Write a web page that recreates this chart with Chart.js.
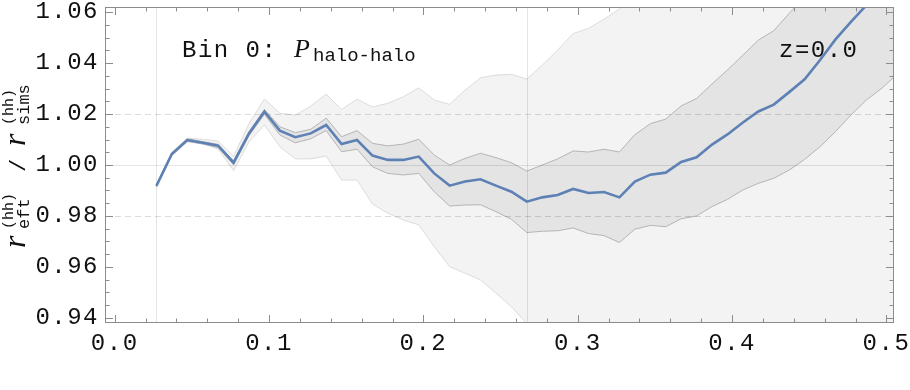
<!DOCTYPE html>
<html>
<head>
<meta charset="utf-8">
<script src="https://cdn.jsdelivr.net/npm/chart.js@4/dist/chart.umd.min.js"></script>
<style>
  html, body { margin: 0; padding: 0; background: #fff; }
</style>
</head>
<body>
<canvas id="ratio" width="910" height="390"></canvas>
<script>
// wavenumbers k [h/Mpc]
const K = [0.027, 0.037, 0.047, 0.057, 0.067, 0.077, 0.087, 0.097, 0.107, 0.117,
  0.127, 0.137, 0.147, 0.157, 0.167, 0.177, 0.187, 0.197, 0.207, 0.217,
  0.227, 0.237, 0.247, 0.257, 0.267, 0.277, 0.287, 0.297, 0.307, 0.317,
  0.327, 0.337, 0.347, 0.357, 0.367, 0.377, 0.387, 0.397, 0.407, 0.417,
  0.427, 0.437, 0.447, 0.457, 0.467, 0.477, 0.487, 0.497, 0.507];

// r_eft / r_sims, mean
const RATIO = [0.9918, 1.0043, 1.0098, 1.0087, 1.0076, 1.0009, 1.0124, 1.0209, 1.0135, 1.0109,
  1.0124, 1.0157, 1.0082, 1.0098, 1.0037, 1.0020, 1.0020, 1.0033, 0.9967, 0.9919,
  0.9935, 0.9944, 0.9919, 0.9895, 0.9856, 0.9873, 0.9882, 0.9906, 0.9890, 0.9894,
  0.9873, 0.9935, 0.9962, 0.9970, 1.0012, 1.0030, 1.0080, 1.0120, 1.0167, 1.0210,
  1.0237, 1.0286, 1.0336, 1.0412, 1.0493, 1.0562, 1.0627, 1.0690, 1.0750];

// inner (darker) band
const INNER_HI = [0.9921, 1.0047, 1.0103, 1.0092, 1.0081, 1.0016, 1.0131, 1.0218, 1.0150, 1.0127,
  1.0140, 1.0184, 1.0111, 1.0135, 1.0085, 1.0075, 1.0082, 1.0101, 1.0039, 1.0000,
  1.0026, 1.0046, 1.0029, 1.0009, 0.9976, 1.0000, 1.0024, 1.0055, 1.0051, 1.0062,
  1.0051, 1.0119, 1.0162, 1.0180, 1.0232, 1.0261, 1.0318, 1.0373, 1.0431, 1.0490,
  1.0527, 1.0595, 1.0660, 1.0730, 1.0800, 1.0870, 1.0940, 1.1010, 1.1080];
const INNER_LO = [0.9915, 1.0039, 1.0093, 1.0082, 1.0068, 1.0001, 1.0115, 1.0199, 1.0118, 1.0087,
  1.0103, 1.0135, 1.0052, 1.0062, 0.9993, 0.9967, 0.9961, 0.9967, 0.9895, 0.9839,
  0.9843, 0.9844, 0.9817, 0.9787, 0.9735, 0.9740, 0.9742, 0.9753, 0.9731, 0.9723,
  0.9696, 0.9748, 0.9763, 0.9758, 0.9789, 0.9800, 0.9837, 0.9865, 0.9902, 0.9928,
  0.9948, 0.9980, 1.0022, 1.0072, 1.0131, 1.0196, 1.0255, 1.0301, 1.0357];

// outer (lighter) band
const OUTER_HI = [0.9922, 1.0050, 1.0105, 1.0101, 1.0094, 1.0035, 1.0163, 1.0259, 1.0203, 1.0196,
  1.0231, 1.0278, 1.0218, 1.0258, 1.0228, 1.0242, 1.0268, 1.0303, 1.0255, 1.0238,
  1.0294, 1.0342, 1.0353, 1.0356, 1.0337, 1.0392, 1.0451, 1.0516, 1.0536, 1.0572,
  1.0612, 1.0700, 1.0780, 1.0850, 1.0920, 1.1000, 1.1080, 1.1160, 1.1240, 1.1320,
  1.1400, 1.1480, 1.1560, 1.1640, 1.1720, 1.1800, 1.1880, 1.1960, 1.2040];
const OUTER_LO = [0.9914, 1.0036, 1.0091, 1.0084, 1.0063, 0.9978, 1.0091, 1.0157, 1.0072, 1.0024,
  1.0024, 1.0035, 0.9941, 0.9941, 0.9847, 0.9811, 0.9784, 0.9765, 0.9680, 0.9601,
  0.9575, 0.9549, 0.9497, 0.9444, 0.9378, 0.9330, 0.9300, 0.9280, 0.9260, 0.9250,
  0.9230, 0.9220, 0.9210, 0.9200, 0.9200, 0.9190, 0.9190, 0.9190, 0.9200, 0.9200,
  0.9210, 0.9220, 0.9230, 0.9240, 0.9250, 0.9260, 0.9270, 0.9280, 0.9290];

const X_TICKS = [0.0, 0.1, 0.2, 0.3, 0.4, 0.5];
const Y_TICKS = [0.94, 0.96, 0.98, 1.00, 1.02, 1.04, 1.06];
const GRID_SOLID_Y = [1.00];
const GRID_DASHED_Y = [0.98, 1.02];
const GRID_X = [0.027, 0.267];

const X_MIN = -0.0063, X_MAX = 0.5049;
const Y_MIN = 0.938, Y_MAX = 1.062;

const MONO = '"Liberation Mono", "DejaVu Sans Mono", monospace';
const SERIF = '"Liberation Serif", "DejaVu Serif", serif';

function pts(arr) {
  return K.map((k, i) => ({ x: k, y: arr[i] }));
}

// minor tick positions, between the labelled ones
const X_MINOR = [];
for (let i = 1; i < 26; i++) if (i % 5) X_MINOR.push(i * 0.02);
const Y_MINOR = [];
for (let i = 0; i <= 24; i++) if (i % 4) Y_MINOR.push(0.94 + i * 0.005);

function drawGrid(chart) {
  const { ctx, chartArea: a, scales: { x, y } } = chart;
  ctx.save();
  ctx.beginPath();
  ctx.rect(a.left, a.top, a.right - a.left, a.bottom - a.top);
  ctx.clip();
  ctx.lineWidth = 1;
  ctx.strokeStyle = "rgba(0,0,0,0.10)";
  ctx.beginPath();
  for (const v of GRID_SOLID_Y) {
    const py = Math.round(y.getPixelForValue(v)) + 0.5;
    ctx.moveTo(a.left, py); ctx.lineTo(a.right, py);
  }
  for (const v of GRID_X) {
    const px = Math.round(x.getPixelForValue(v)) + 0.5;
    ctx.moveTo(px, a.top); ctx.lineTo(px, a.bottom);
  }
  ctx.stroke();
  ctx.setLineDash([6, 4]);
  ctx.strokeStyle = "rgba(0,0,0,0.14)";
  ctx.beginPath();
  for (const v of GRID_DASHED_Y) {
    const py = Math.round(y.getPixelForValue(v)) + 0.5;
    ctx.moveTo(a.left, py); ctx.lineTo(a.right, py);
  }
  ctx.stroke();
  ctx.restore();
}

function drawLabels(chart) {
  const ctx = chart.ctx;
  ctx.save();
  ctx.fillStyle = "#111";
  ctx.textBaseline = "alphabetic";
  ctx.textAlign = "left";
  ctx.letterSpacing = "1.5px";
  ctx.font = `24px ${MONO}`;
  ctx.fillText("Bin 0:", 182, 57);
  ctx.fillText("z=0.0", 779, 57);
  ctx.letterSpacing = "0px";
  ctx.font = `italic 26px ${SERIF}`;
  ctx.fillText("P", 294, 57);
  ctx.font = `19px ${MONO}`;
  ctx.fillText("halo-halo", 313, 61);
  ctx.restore();
}

function drawFrame(chart) {
  const { ctx, chartArea: a, scales: { x, y } } = chart;
  ctx.save();
  ctx.strokeStyle = "#8c8c8c";
  ctx.lineWidth = 1;
  ctx.strokeRect(a.left + 0.5, a.top + 0.5, a.right - a.left - 1, a.bottom - a.top - 1);
  ctx.beginPath();
  const xTick = (v, len) => {
    const px = Math.round(x.getPixelForValue(v)) + 0.5;
    ctx.moveTo(px, a.bottom); ctx.lineTo(px, a.bottom - len);
    ctx.moveTo(px, a.top); ctx.lineTo(px, a.top + len);
  };
  const yTick = (v, len) => {
    const py = Math.round(y.getPixelForValue(v)) + 0.5;
    ctx.moveTo(a.left, py); ctx.lineTo(a.left + len, py);
    ctx.moveTo(a.right, py); ctx.lineTo(a.right - len, py);
  };
  X_TICKS.forEach((v) => xTick(v, 8));
  X_MINOR.forEach((v) => xTick(v, 4.5));
  Y_TICKS.forEach((v) => yTick(v, 8));
  Y_MINOR.forEach((v) => yTick(v, 4.5));
  ctx.stroke();
  ctx.restore();
}

function drawYTitle(chart) {
  const ctx = chart.ctx;
  ctx.save();
  ctx.translate(25, 248);
  ctx.rotate(-Math.PI / 2);
  ctx.fillStyle = "#111";
  ctx.letterSpacing = "0px";
  ctx.textBaseline = "alphabetic";
  ctx.textAlign = "left";
  ctx.font = `italic 32px ${SERIF}`;
  ctx.fillText("r", 0, 0);
  ctx.fillText("r", 102, 0);
  ctx.font = `15px ${MONO}`;
  ctx.fillText("(hh)", 19, -12);
  ctx.fillText("(hh)", 123, -12);
  ctx.font = `17px ${MONO}`;
  ctx.fillText("eft", 19, 4);
  ctx.fillText("sims", 123, 4);
  ctx.font = `22px ${MONO}`;
  ctx.fillText("/", 76, 0);
  ctx.restore();
}

const decorPlugin = {
  id: "decor",
  beforeDraw(chart) {
    chart.ctx.letterSpacing = "1.5px";
  },
  afterDatasetDraw(chart, args) {
    // grid lines and annotations sit above the bands, under the mean curve
    if (args.index !== 3) return;
    drawGrid(chart);
    drawLabels(chart);
  },
  afterDraw(chart) {
    drawFrame(chart);
    drawYTitle(chart);
  },
};

new Chart(document.getElementById("ratio"), {
  type: "line",
  data: {
    datasets: [
      { data: pts(OUTER_HI), borderColor: "#dcdcdc", borderWidth: 1, backgroundColor: "#f3f3f3", fill: 1, order: 5 },
      { data: pts(OUTER_LO), borderColor: "#dcdcdc", borderWidth: 1, fill: false, order: 4 },
      { data: pts(INNER_HI), borderColor: "#b5b5b5", borderWidth: 1, backgroundColor: "#e4e4e4", fill: 3, order: 3 },
      { data: pts(INNER_LO), borderColor: "#b5b5b5", borderWidth: 1, fill: false, order: 2 },
      { data: pts(RATIO), borderColor: "#5e81b5", borderWidth: 2.6, fill: false, order: 1 },
    ],
  },
  options: {
    responsive: false,
    animation: false,
    devicePixelRatio: 1,
    elements: { point: { radius: 0 }, line: { tension: 0 } },
    layout: { padding: { left: 0, right: 16, top: 7, bottom: 0 } },
    plugins: { legend: { display: false }, tooltip: { enabled: false } },
    scales: {
      x: {
        type: "linear",
        min: X_MIN,
        max: X_MAX,
        grid: { display: false, drawTicks: false },
        border: { display: false },
        afterBuildTicks: (s) => { s.ticks = X_TICKS.map((v) => ({ value: v })); },
        afterFit: (s) => { s.height = 67; s.paddingLeft = 0; s.paddingRight = 0; },
        ticks: {
          font: { family: MONO, size: 24 },
          color: "#111",
          padding: 6,
          maxRotation: 0,
          autoSkip: false,
          callback: (v) => v.toFixed(1),
        },
      },
      y: {
        type: "linear",
        min: Y_MIN,
        max: Y_MAX,
        grid: { display: false, drawTicks: false },
        border: { display: false },
        afterBuildTicks: (s) => { s.ticks = Y_TICKS.map((v) => ({ value: v })); },
        afterFit: (s) => { s.width = 105; s.paddingTop = 0; s.paddingBottom = 0; },
        ticks: {
          font: { family: MONO, size: 24 },
          color: "#111",
          padding: 6,
          autoSkip: false,
          callback: (v) => v.toFixed(2),
        },
      },
    },
  },
  plugins: [decorPlugin],
});
</script>
</body>
</html>
